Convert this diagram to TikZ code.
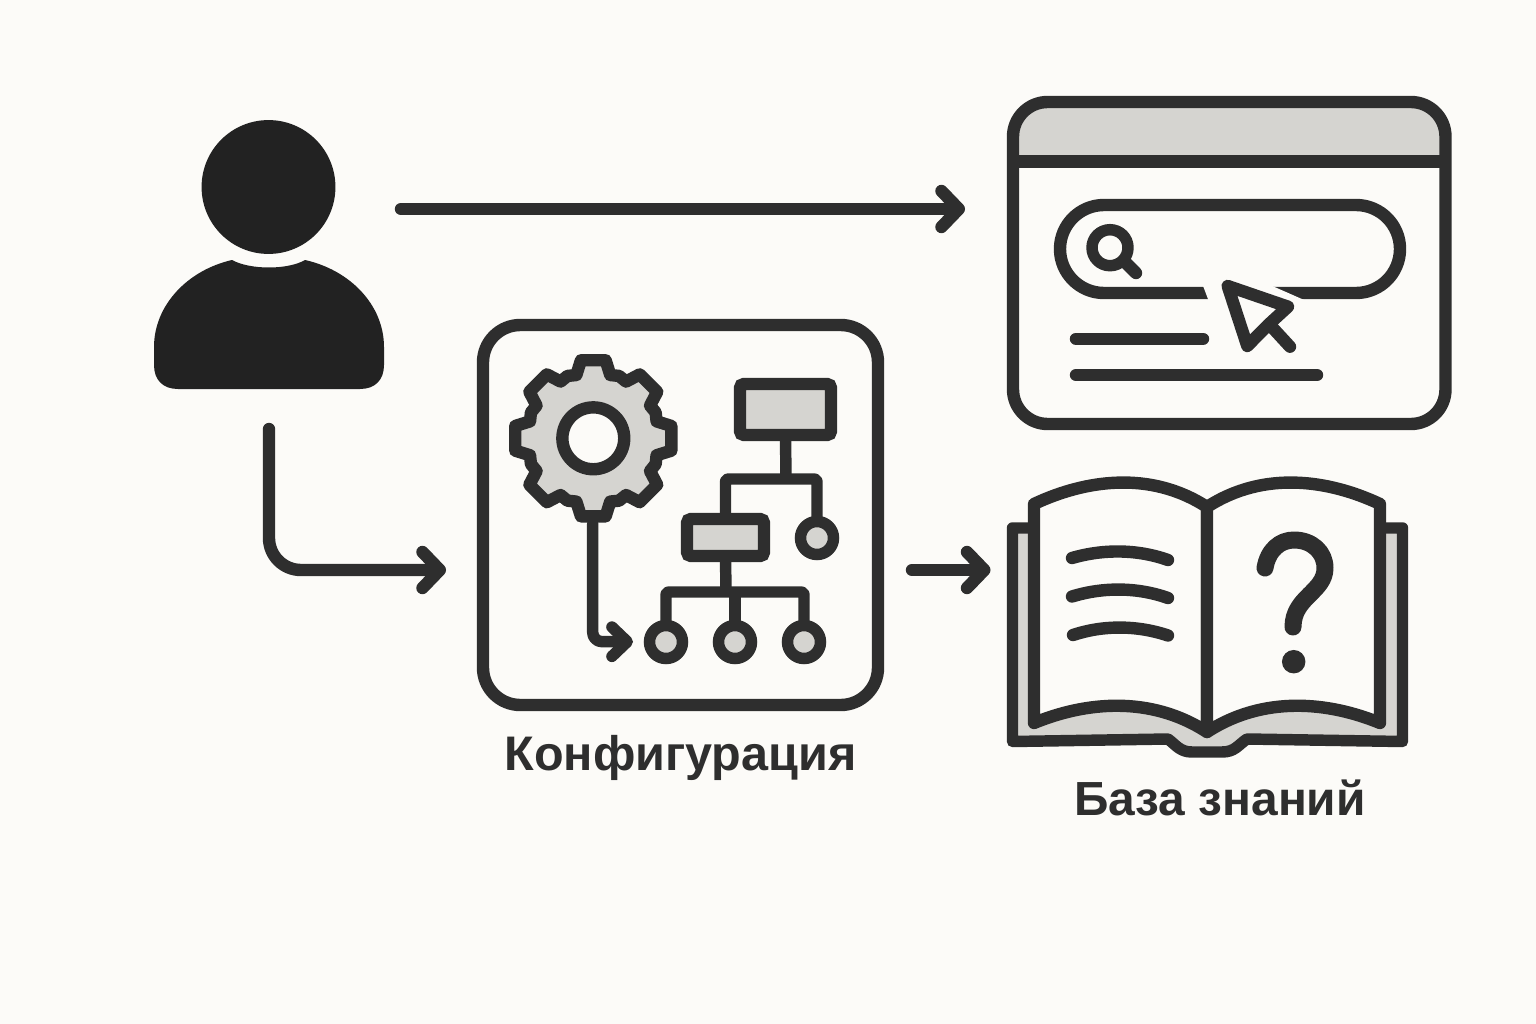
\documentclass[tikz,border=0pt]{standalone}
\usepackage{fontspec}
\setmainfont{Liberation Sans}
\usetikzlibrary{arrows.meta}
\definecolor{bgc}{HTML}{FCFBF8}
\definecolor{ink}{HTML}{2E2E2E}
\definecolor{usercol}{HTML}{222222}
\definecolor{panel}{HTML}{D5D4D0}
\begin{document}
\begin{tikzpicture}[x=0.75pt,y=-0.75pt,
  stroke/.style={draw=ink,line width=9.3pt,line cap=round,line join=round},
  thin stroke/.style={draw=ink,line width=8.6pt,line cap=round,line join=round},
  flow/.style={stroke,-{Straight Barb[length=13pt,width=27pt,round]}},
  fbox/.style={draw=ink,fill=panel,line width=9.3pt,rounded corners=3pt,inner sep=0pt,outer sep=0pt},
  leaf/.style={circle,draw=ink,fill=panel,line width=8.6pt,minimum size=24.75pt,inner sep=0pt,outer sep=0pt},
  lbl/.style={text=ink,inner sep=0pt}]
\useasboundingbox (0,0) rectangle (1536,1024);
\fill[bgc] (0,0) rectangle (1536,1024);

% user
\fill[usercol] (268.5,187) circle [radius=50.2pt];
\fill[usercol] (232,260) .. controls (250,270) and (288,270) .. (305,260)
  .. controls (350,270) and (384,305) .. (384,347) -- (384,365)
  .. controls (384,380) and (375,389) .. (360,389) -- (178,389)
  .. controls (163,389) and (154,380) .. (154,365) -- (154,347)
  .. controls (154,305) and (188,270) .. (232,260) -- cycle;

% connector end points
\coordinate (userE) at (401,209);
\coordinate (webW) at (965,209);
\coordinate (userS) at (269,429);
\coordinate (userBend) at (269,570);
\coordinate (cfgW) at (446,570);
\coordinate (cfgE) at (912,570);
\coordinate (bookW) at (990.5,570);
\draw[flow] (userE) -- (webW);
\draw[flow,rounded corners=24pt] (userS) -- (userBend) -- (cfgW);
\draw[flow] (cfgE) -- (bookW);

% browser window
\fill[bgc,rounded corners=26pt] (1013,102) rectangle (1445.5,424);
\begin{scope}
  \clip (1000,90) rectangle (1460,161.5);
  \fill[panel,rounded corners=26pt] (1013,102) rectangle (1445.5,424);
\end{scope}
\draw[stroke,rounded corners=26pt] (1013,102) rectangle (1445.5,424);
\draw[stroke,line cap=butt] (1013,161.5) -- (1445.5,161.5);
\draw[stroke,rounded corners=33pt] (1060,205) rectangle (1400,293);
\fill[bgc] (1202.7,285) -- (1209,301.7) -- (1308,301.7) -- (1270,285) -- cycle;
\draw[thin stroke] (1110,247.7) circle [radius=13.5pt];
\draw[stroke] (1124,261) -- (1136,273);
\draw[stroke] (1076,338.7) -- (1203,338.7);
\draw[stroke] (1076,375) -- (1317,375);
\draw[stroke,fill=bgc] (1227.7,286) -- (1288,306.7) -- (1268,325) -- (1247.3,346) -- cycle;
\draw[stroke] (1270,325) -- (1290,346.7);

% configuration panel
\draw[stroke,rounded corners=28pt] (483,325) rectangle (878,705);
\begin{scope}[shift={(593.3,438.3)}]
  \draw[stroke,fill=panel] (-22.5:67.5)
    \foreach \a in {0,45,...,315} {
      -- ({\a-15}:65.5) -- ({\a-9}:79) -- ({\a+9}:79) -- ({\a+15}:65.5) -- ({\a+22.5}:67.5)
    } -- cycle;
  \draw[stroke,fill=bgc] (0,0) circle [radius=23.2pt];
\end{scope}
\coordinate (gearS) at (592.7,524);
\coordinate (gearBend) at (592.7,641.7);
\coordinate (leafArrow) at (633,641.7);
\draw[thin stroke,rounded corners=7pt,-{Straight Barb[length=11.5pt,width=22pt,round]}] (gearS) -- (gearBend) -- (leafArrow);

% flow chart
\node[fbox,minimum width=68.25pt,minimum height=38.25pt] (fbA) at (785.5,409.5) {};
\node[fbox,minimum width=57.75pt,minimum height=27.75pt] (fbB) at (725.5,537.5) {};
\node[leaf] (leafR) at (817,538) {};
\node[leaf] (leaf1) at (666,642) {};
\node[leaf] (leaf2) at (735,642) {};
\node[leaf] (leaf3) at (804,642) {};
\coordinate (j1) at (786,479);
\coordinate (j2) at (726,592);
\begin{scope}[thin stroke,line cap=butt,rounded corners=2pt]
  \draw (fbA.south) -- (j1);
  \draw (fbB.north) |- (j1) -| (leafR.north);
  \draw (fbB.south) -- (j2);
  \draw (leaf1.north) |- (j2) -| (leaf3.north);
  \draw (leaf2.north) -- (leaf2.north |- j2);
\end{scope}
\node[lbl,font=\bfseries\fontsize{36.4}{40}\selectfont] (cfgLabel) at (680.5,757.5) {Конфигурация};

% book
\fill[panel] (1012.5,528) -- (1402.5,528) -- (1402.5,741.5) -- (1247,739)
  .. controls (1238,745) and (1235,752) .. (1222,752) -- (1192,752)
  .. controls (1180,752) and (1176,745) .. (1168,739) -- (1012.5,741.5) -- cycle;
\draw[thin stroke] (1034,528) -- (1012.5,528) -- (1012.5,741.5) -- (1168,739)
  .. controls (1176,745) and (1180,752) .. (1192,752) -- (1222,752)
  .. controls (1235,752) and (1238,745) .. (1247,739) -- (1402.5,741.5) -- (1402.5,528) -- (1380,528);
\draw[stroke,fill=bgc] (1034,504) .. controls (1085,480) and (1150,470) .. (1207,507)
  -- (1207,732) .. controls (1150,695) and (1085,702) .. (1034,723) -- cycle;
\draw[stroke,fill=bgc] (1380,504) .. controls (1329,480) and (1264,470) .. (1207,507)
  -- (1207,732) .. controls (1264,695) and (1329,702) .. (1380,723) -- cycle;
\draw[stroke] (1072,558) .. controls (1103,549) and (1137,549) .. (1168,560);
\draw[stroke] (1072,596.5) .. controls (1103,587) and (1137,587) .. (1168,598);
\draw[stroke] (1073,635) .. controls (1103,625) and (1137,625) .. (1168,635.5);
\draw[stroke,line width=12.75pt] (1265,568) .. controls (1268,550) and (1280,540) .. (1294,540)
  .. controls (1312,540) and (1325,552) .. (1325,568)
  .. controls (1325,592) and (1293,597) .. (1293,627);
\fill[ink] (1293.7,661.7) circle [radius=8.8pt];
\node[lbl,font=\bfseries\fontsize{35.9}{40}\selectfont] (bookLabel) at (1220,798) {База знаний};
\end{tikzpicture}
\end{document}
